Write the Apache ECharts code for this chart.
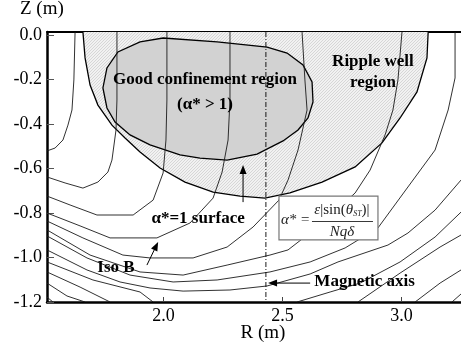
<!DOCTYPE html>
<html><head><meta charset="utf-8">
<script src="https://cdn.jsdelivr.net/npm/echarts@6/dist/echarts.min.js"></script>
<style>html,body{margin:0;padding:0;background:#fff}#c{width:461px;height:349px}</style>
</head><body><div id="c"></div>
<script>
// ---- data (R in m, Z in m) ----
const xTicks = [2.0, 2.5, 3.0];
const yTicks = [-1.2, -1.0, -0.8, -0.6, -0.4, -0.2, 0.0];
const magneticAxisR = 2.43;

const rippleWellBoundary = [[1.661,0.0135],[1.670,-0.103],[1.691,-0.225],[1.724,-0.315],[1.783,-0.405],[1.838,-0.463],[1.901,-0.526],[1.985,-0.598],[2.090,-0.661],[2.208,-0.706],[2.321,-0.724],[2.426,-0.733],[2.531,-0.710],[2.666,-0.661],[2.805,-0.593],[2.918,-0.485],[2.994,-0.373],[3.065,-0.256],[3.107,-0.103],[3.112,0.0135]];
const goodConfinementBoundary = [[1.901,-0.031],[1.998,-0.0135],[2.225,-0.031],[2.435,-0.054],[2.519,-0.081],[2.586,-0.135],[2.624,-0.211],[2.628,-0.301],[2.607,-0.373],[2.565,-0.427],[2.502,-0.476],[2.393,-0.535],[2.267,-0.562],[2.153,-0.553],[2.069,-0.539],[1.943,-0.494],[1.859,-0.449],[1.796,-0.391],[1.762,-0.328],[1.745,-0.238],[1.762,-0.148],[1.808,-0.076]];

const isoB1 = [[1.628,0.0135],[1.623,-0.202],[1.615,-0.337],[1.598,-0.405],[1.577,-0.472],[1.544,-0.508],[1.51,-0.521]];
const isoB2 = [[1.804,0.0135],[1.804,-0.292],[1.800,-0.427],[1.783,-0.562],[1.766,-0.616],[1.724,-0.661],[1.661,-0.688],[1.586,-0.665],[1.51,-0.638]];
const isoB3 = [[2.014,0.0135],[2.014,-0.292],[2.010,-0.472],[1.998,-0.620],[1.956,-0.742],[1.872,-0.809],[1.720,-0.809],[1.607,-0.764],[1.51,-0.724]];
const isoB4 = [[2.279,0.0135],[2.279,-0.292],[2.271,-0.472],[2.246,-0.616],[2.208,-0.733],[2.111,-0.845],[1.972,-0.912],[1.775,-0.912],[1.649,-0.858],[1.51,-0.800]];
const isoB5 = [[2.582,0.0135],[2.594,-0.202],[2.603,-0.337],[2.565,-0.517],[2.523,-0.652],[2.485,-0.742],[2.376,-0.863],[2.267,-0.953],[2.124,-1.002],[1.943,-1.002],[1.829,-0.989],[1.661,-0.912],[1.51,-0.836]];
const isoB6 = [[3.002,0.0135],[2.985,-0.202],[2.964,-0.337],[2.931,-0.449],[2.868,-0.607],[2.805,-0.710],[2.658,-0.854],[2.523,-0.966],[2.447,-0.989],[2.267,-1.034],[2.082,-1.079],[1.901,-1.065],[1.691,-0.989],[1.51,-0.876]];
const isoB7 = [[3.225,0.0135],[3.225,-0.193],[3.196,-0.337],[3.141,-0.517],[3.027,-0.683],[2.901,-0.867],[2.763,-0.957],[2.616,-1.020],[2.447,-1.065],[2.225,-1.101],[2.040,-1.110],[1.859,-1.079],[1.678,-1.002],[1.51,-0.903]];
const isoB8 = [[3.25,-0.652],[3.141,-0.787],[3.027,-0.890],[2.943,-0.944],[2.733,-1.020],[2.616,-1.074],[2.435,-1.128],[2.279,-1.146],[2.082,-1.151],[1.943,-1.137],[1.817,-1.110],[1.678,-1.056],[1.51,-0.966]];
const isoB9 = [[1.51,-1.020],[1.703,-1.101],[1.901,-1.155],[1.956,-1.2]];
const isoB10 = [[1.51,-1.065],[1.649,-1.133],[1.775,-1.2]];
const isoB11 = [[1.51,-1.115],[1.594,-1.173],[1.670,-1.2]];
const isoB12 = [[1.51,-1.178],[1.535,-1.2]];
const isoB13 = [[2.561,-1.2],[2.700,-1.155],[2.826,-1.115],[2.994,-1.020],[3.141,-0.908],[3.25,-0.796]];
const isoB14 = [[2.817,-1.2],[2.994,-1.070],[3.162,-0.953],[3.25,-0.899]];
const isoB15 = [[3.057,-1.2],[3.162,-1.115],[3.25,-1.056]];
const isoB16 = [[3.212,-1.2],[3.25,-1.164]];
const isoBLines = [isoB1,isoB2,isoB3,isoB4,isoB5,isoB6,isoB7,isoB8,isoB9,isoB10,isoB11,isoB12,isoB13,isoB14,isoB15,isoB16];

// annotation anchors (R, Z)
const labelTexts = ['Good confinement region','(α* > 1)','Ripple well','region','α*=1 surface','Iso B','Magnetic axis'];
const labelAnchors = [[2.174,-0.202],[2.174,-0.315],[2.880,-0.121],[2.880,-0.216],[2.145,-0.827],[1.800,-1.047],[2.845,-1.110]];
const arrowFrom = [[2.334,-0.751],[1.930,-1.034],[2.616,-1.115]];
const arrowTo   = [[2.334,-0.584],[1.977,-0.930],[2.439,-1.115]];
const formulaBox = [[2.485,-0.724],[2.901,-0.921]];

// ---- chart ----
const chart = echarts.init(document.getElementById('c'), null, {renderer:'canvas'});
const SERIF = 'Liberation Serif';

const pat = document.createElement('canvas'); pat.width = 3; pat.height = 3;
const pg = pat.getContext('2d'); pg.fillStyle = '#f1f1f1'; pg.fillRect(0,0,3,3);
pg.fillStyle = '#d6d6d6'; for (let i=0;i<3;i++) pg.fillRect(i,2-i,1,1);

function polySeries(points, fill, z, closed) {
  return {
    type:'custom', coordinateSystem:'cartesian2d', z:z, clip:true, silent:true,
    data: points, encode:{x:0,y:1},
    renderItem: function(params, api) {
      if (params.dataIndex !== 0) return null;
      const pts = points.map(p => api.coord(p));
      return {type:'group', children:[
        {type:'polygon', shape:{points:pts}, style:{fill:fill, stroke:closed ? '#000' : null, lineWidth:1.3}},
        closed ? null : {type:'polyline', shape:{points:pts}, style:{fill:null, stroke:'#000', lineWidth:1.3}}
      ].filter(Boolean)};
    }
  };
}
const fmt = v => (Math.abs(v) < 1e-9 ? 0 : v).toFixed(1);

const series = [
  polySeries(rippleWellBoundary, {image: pat, repeat:'repeat'}, 1, false),
  polySeries(goodConfinementBoundary, '#d2d2d2', 2, true)
];
isoBLines.forEach(l => series.push({type:'line', data:l, showSymbol:false, z:3, clip:true, silent:true,
  lineStyle:{color:'#1a1a1a', width:0.9}}));
series.push({type:'line', data:[[magneticAxisR,0.0135],[magneticAxisR,-1.2]], showSymbol:false, z:4, silent:true,
  lineStyle:{color:'#000', width:0.9, type:[5,2,1,2]}});

chart.setOption({
  animation:false,
  grid:{left:47, right:0, top:32, bottom:47},
  xAxis:[{type:'value', min:1.51, max:3.25, position:'bottom',
    axisLine:{onZero:false, lineStyle:{color:'#000', width:2.5}},
    axisTick:{inside:true, length:5, customValues:xTicks, lineStyle:{color:'#444'}},
    axisLabel:{customValues:xTicks, formatter:fmt, fontFamily:SERIF, fontSize:18, color:'#000', margin:5},
    splitLine:{show:false}},
    {type:'value', min:1.51, max:3.25, position:'top',
    axisLine:{onZero:false, lineStyle:{color:'#000', width:1.8}},
    axisTick:{inside:true, length:7, customValues:xTicks, lineStyle:{color:'#444'}},
    axisLabel:{show:false}, splitLine:{show:false}}],
  yAxis:{type:'value', min:-1.2, max:0.0135,
    axisLine:{onZero:false, lineStyle:{color:'#000', width:2.5}},
    axisTick:{inside:true, length:7, customValues:yTicks, lineStyle:{color:'#555'}},
    axisLabel:{customValues:yTicks, formatter:fmt, fontFamily:SERIF, fontSize:18, color:'#000', margin:5},
    splitLine:{show:false}},
  series: series
});

const px = p => chart.convertToPixel({xAxisIndex:0, yAxisIndex:0}, p);
const g = [];
labelTexts.forEach((t,i) => {
  const p = px(labelAnchors[i]);
  g.push({type:'text', x:p[0], y:p[1], z:20, style:{text:t, fontFamily:SERIF, fontWeight:'bold', fontSize:17,
    fill:'#000', align:'center', verticalAlign:'middle'}});
});
arrowFrom.forEach((f,i) => {
  const a = px(f), b = px(arrowTo[i]);
  const dx = b[0]-a[0], dy = b[1]-a[1], L = Math.hypot(dx,dy), ux = dx/L, uy = dy/L;
  const hl = 9, hw = 3.5;
  const base = [b[0]-ux*hl, b[1]-uy*hl];
  g.push({type:'line', z:20, shape:{x1:a[0], y1:a[1], x2:base[0], y2:base[1]}, style:{stroke:'#000', lineWidth:1}});
  g.push({type:'polygon', z:20, shape:{points:[b,[base[0]-uy*hw, base[1]+ux*hw],[base[0]+uy*hw, base[1]-ux*hw]]}, style:{fill:'#000'}});
});
const b0 = px(formulaBox[0]), b1 = px(formulaBox[1]);
const bx = b0[0], by = b0[1], bw = b1[0]-b0[0], bh = b1[1]-b0[1];
g.push({type:'rect', z:30, shape:{x:bx, y:by, width:bw, height:bh}, style:{fill:'#fff', stroke:'#777', lineWidth:1.2}});
g.push({type:'text', z:31, x:bx+2, y:by+bh*0.55, style:{text:'α* =', fontFamily:SERIF, fontStyle:'italic', fontSize:15, fill:'#222', align:'left', verticalAlign:'middle'}});
g.push({type:'text', z:31, x:bx+63, y:by+bh*0.33, style:{
  text:'{i|ε}{n||sin(}{i|θ}{s|ST}{n|)|}', align:'center', verticalAlign:'middle',
  rich:{i:{fontFamily:SERIF, fontStyle:'italic', fontSize:15, fill:'#222'},
        n:{fontFamily:SERIF, fontSize:15, fill:'#222'},
        s:{fontFamily:SERIF, fontStyle:'italic', fontSize:8, fill:'#222', verticalAlign:'bottom', padding:[6,0,0,0]}}}});
g.push({type:'line', z:31, shape:{x1:bx+33, y1:by+bh*0.58, x2:bx+94, y2:by+bh*0.58}, style:{stroke:'#222', lineWidth:0.9}});
g.push({type:'text', z:31, x:bx+63, y:by+bh*0.82, style:{text:'Nqδ', fontFamily:SERIF, fontStyle:'italic', fontSize:15, fill:'#222', align:'center', verticalAlign:'middle'}});
g.push({type:'text', left:20, top:0, style:{text:'Z (m)', fontFamily:SERIF, fontSize:19, fill:'#000'}});
g.push({type:'text', x:263, y:333, style:{text:'R (m)', fontFamily:SERIF, fontSize:19, fill:'#000', align:'center', verticalAlign:'middle'}});
chart.setOption({graphic:{elements:g}});
</script></body></html>
